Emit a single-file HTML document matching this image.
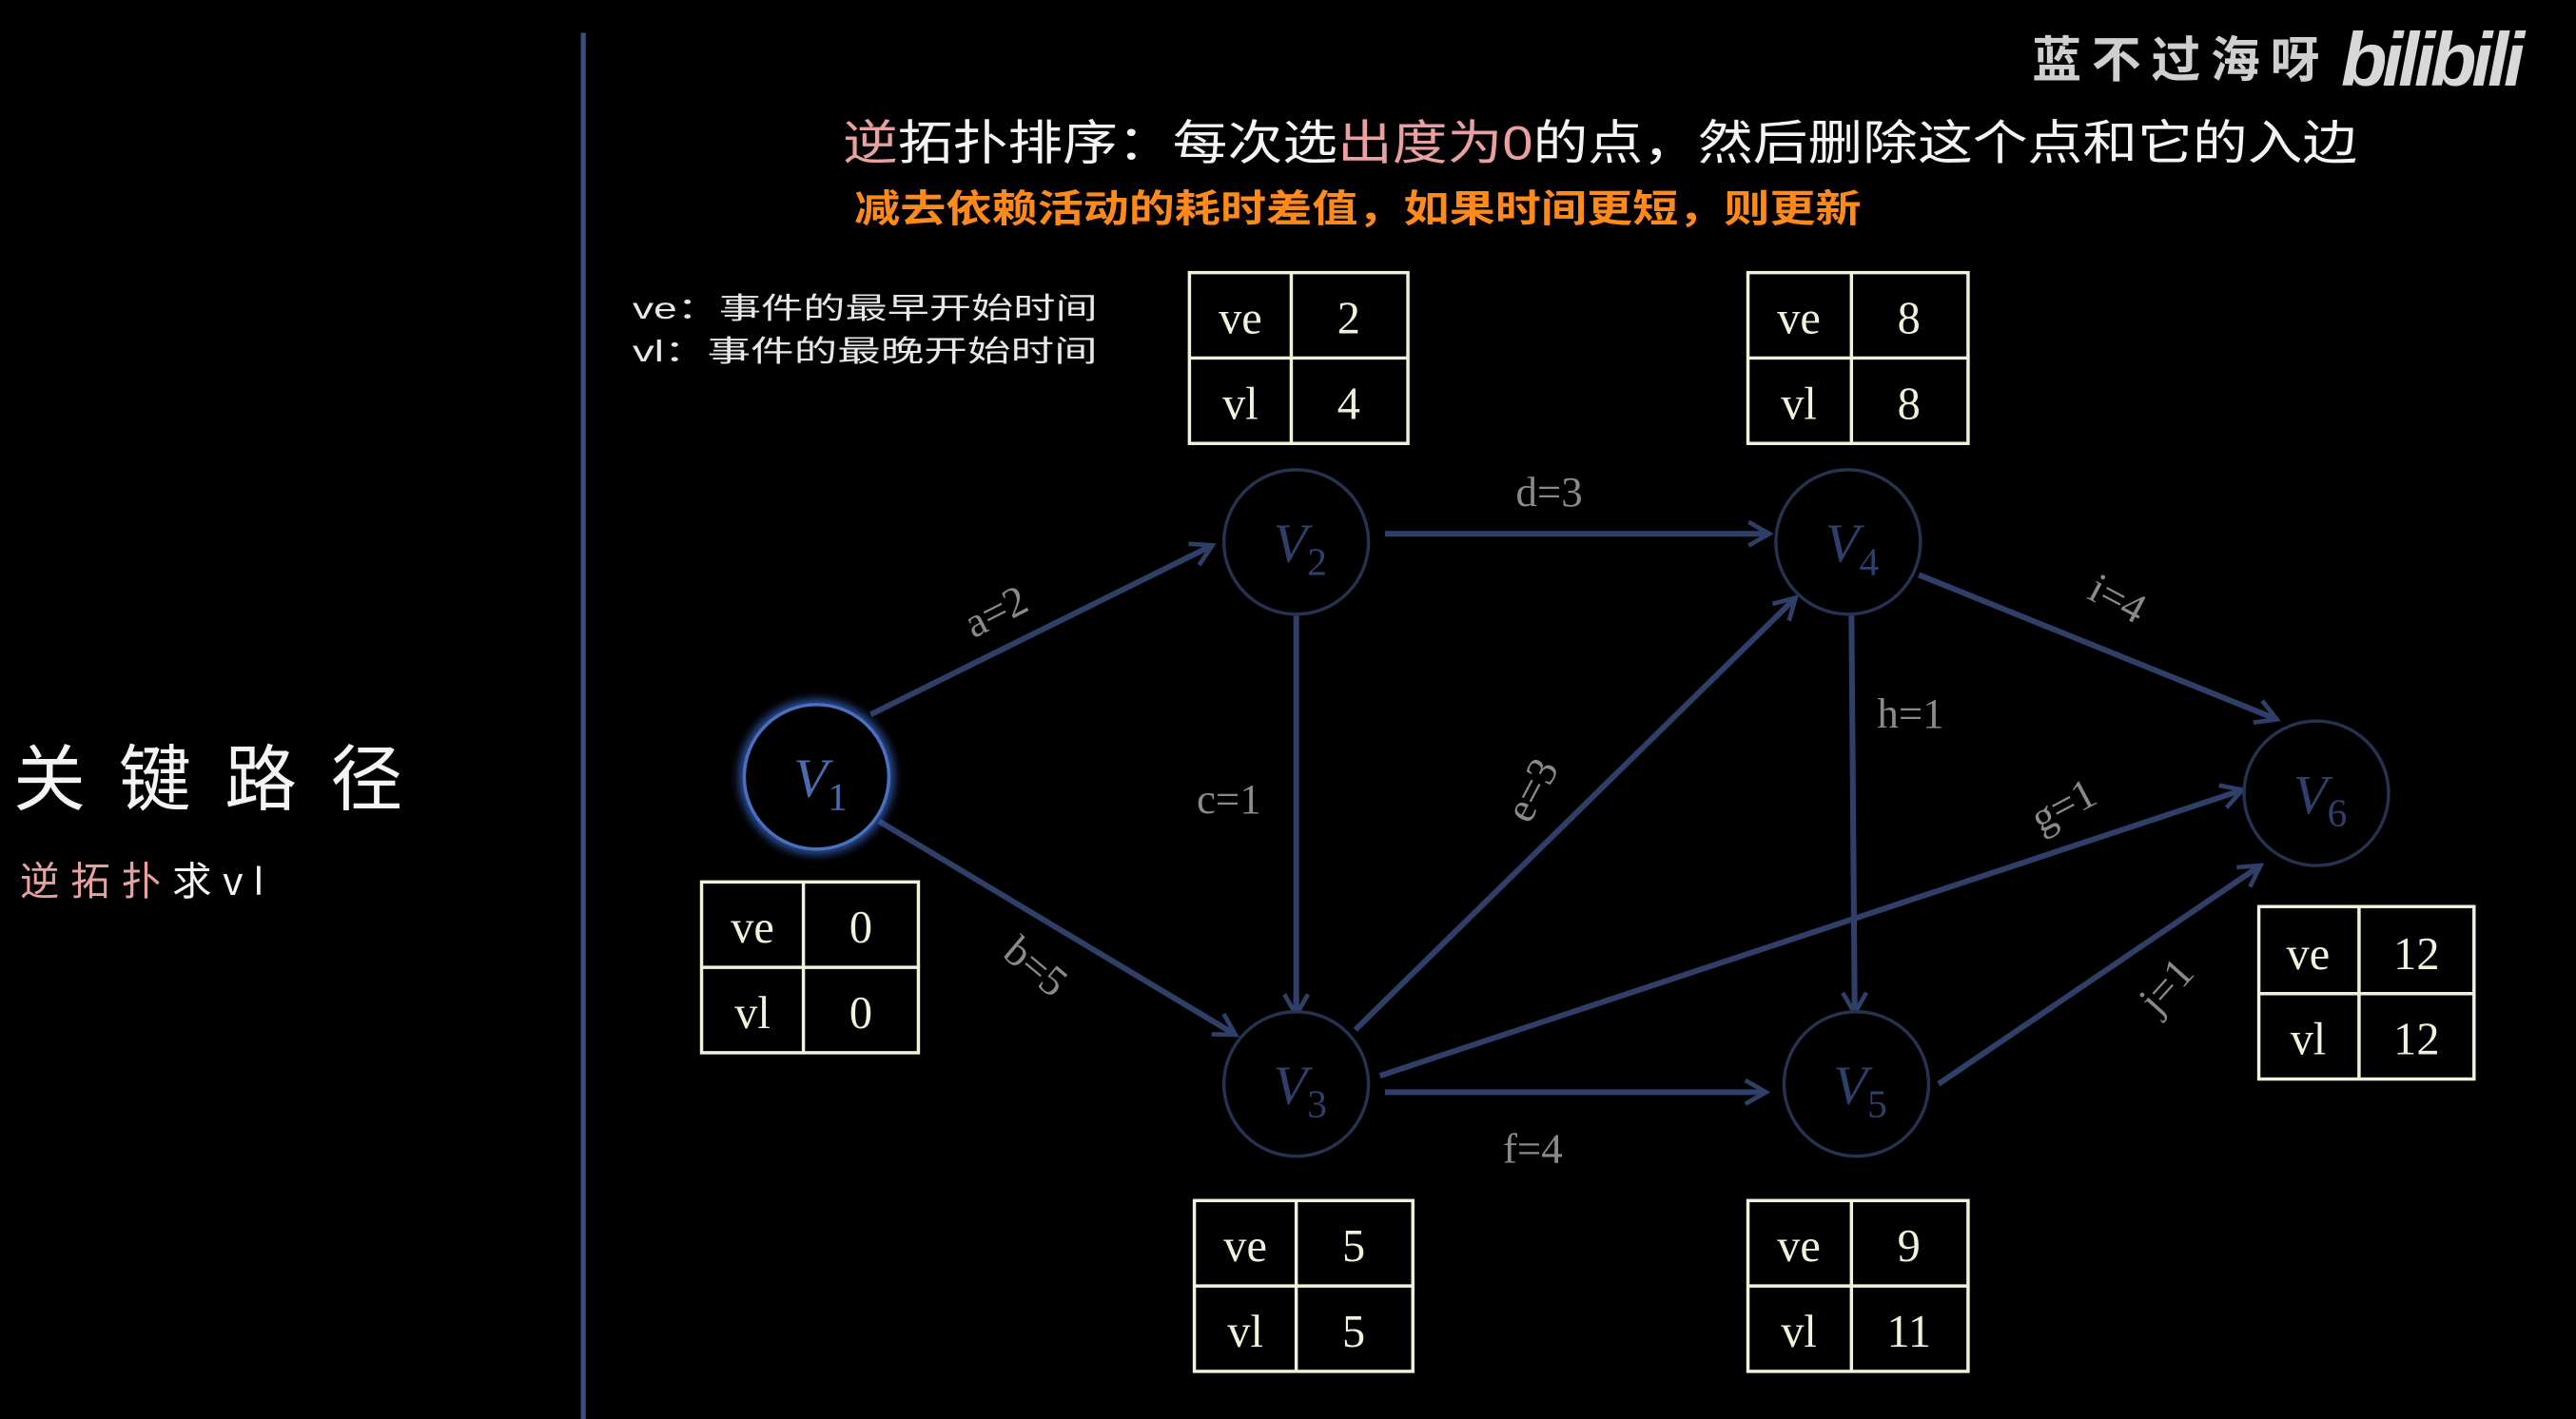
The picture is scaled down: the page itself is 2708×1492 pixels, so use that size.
<!DOCTYPE html>
<html><head><meta charset="utf-8"><style>
html,body{margin:0;padding:0;background:#000;width:2708px;height:1492px;overflow:hidden}
svg{display:block}
.cj{font-family:"Liberation Sans","Noto Sans CJK SC",sans-serif}
.lbl{fill:#8a8a8a;font-size:26px;font-family:"Liberation Serif",serif}
.vn{fill:#2e3f6a;font-size:34px;font-style:italic;font-family:"Liberation Serif",serif}
.vs{font-size:24px;font-style:normal}
.tt{fill:#f2f2dc;font-size:28px;font-family:"Liberation Serif",serif;text-anchor:middle}
</style></head><body>
<svg width="2708" height="1492" viewBox="0 0 1568 864" xmlns="http://www.w3.org/2000/svg">
<defs>
<marker id="ar" viewBox="0 0 20 20" refX="17" refY="10" markerWidth="18" markerHeight="18" orient="auto" markerUnits="userSpaceOnUse">
<path d="M3,2 L17,10 L3,18" fill="none" stroke="#2f3f68" stroke-width="3"/>
</marker>
<filter id="gl"><feGaussianBlur stdDeviation="3"/></filter>
</defs>
<rect width="1568" height="864" fill="#000"/>
<line x1="355" y1="20" x2="355" y2="864" stroke="#3c4d85" stroke-width="3"/>

<text x="1237" y="47" class="cj" font-size="30" font-weight="bold" fill="#cfcfcf" textLength="175">蓝不过海呀</text>
<text x="1425" y="52" font-family="Liberation Sans,sans-serif" font-size="46" font-weight="bold" font-style="italic" fill="#d8d8d8" letter-spacing="-3">bilibili</text>

<text x="513" y="97" class="cj" font-size="29" fill="#f4f4f4" textLength="922" lengthAdjust="spacingAndGlyphs"><tspan fill="#e9a0a0">逆</tspan>拓扑排序：每次选<tspan fill="#e9a0a0">出度为0</tspan>的点，然后删除这个点和它的入边</text>
<text x="520" y="135" class="cj" font-size="23" font-weight="bold" fill="#ff8a1c" textLength="613" lengthAdjust="spacingAndGlyphs">减去依赖活动的耗时差值，如果时间更短，则更新</text>

<text x="385" y="194" class="cj" font-size="18" fill="#e8e8e8" textLength="283" lengthAdjust="spacingAndGlyphs">ve：事件的最早开始时间</text>
<text x="385" y="220" class="cj" font-size="18" fill="#e8e8e8" textLength="283" lengthAdjust="spacingAndGlyphs">vl：事件的最晚开始时间</text>

<text x="8" y="490" class="cj" font-size="44" fill="#f4f4f4" textLength="237">关键路径</text>
<text x="12" y="545" class="cj" font-size="24" fill="#f4f4f4" textLength="148"><tspan fill="#e9a0a0">逆拓扑</tspan>求vl</text>

<g stroke="#2f3f68" stroke-width="3.5" fill="none" marker-end="url(#ar)">
<line x1="530" y1="435" x2="738" y2="332"/>
<line x1="535" y1="500" x2="752" y2="630"/>
<line x1="789" y1="375" x2="789" y2="618"/>
<line x1="843" y1="325" x2="1077" y2="325"/>
<line x1="825" y1="627" x2="1093" y2="364"/>
<line x1="843" y1="665" x2="1075" y2="665"/>
<line x1="840" y1="655" x2="1365" y2="481"/>
<line x1="1127" y1="373" x2="1129" y2="617"/>
<line x1="1168" y1="350" x2="1386" y2="438"/>
<line x1="1180" y1="660" x2="1376" y2="527"/>
</g>

<text class="lbl" transform="translate(610,380) rotate(-27)" text-anchor="middle">a=2</text>
<text class="lbl" transform="translate(625,595) rotate(40)" text-anchor="middle">b=5</text>
<text class="lbl" x="748" y="495" text-anchor="middle">c=1</text>
<text class="lbl" x="943" y="308" text-anchor="middle">d=3</text>
<text class="lbl" transform="translate(940,485) rotate(-62)" text-anchor="middle">e=3</text>
<text class="lbl" x="933" y="708" text-anchor="middle">f=4</text>
<text class="lbl" transform="translate(1260,498) rotate(-28)" text-anchor="middle">g=1</text>
<text class="lbl" x="1163" y="443" text-anchor="middle">h=1</text>
<text class="lbl" transform="translate(1285,372) rotate(28)" text-anchor="middle">i=4</text>
<text class="lbl" transform="translate(1325,606) rotate(-48)" text-anchor="middle">j=1</text>

<circle cx="497" cy="473" r="44" fill="none" stroke="#3a66c8" stroke-width="6" filter="url(#gl)" opacity="0.9"/>
<circle cx="497" cy="473" r="44" fill="#000" stroke="#4a70c0" stroke-width="2"/>
<g fill="#000" stroke="#26324f" stroke-width="2">
<circle cx="789" cy="330" r="44"/>
<circle cx="789" cy="660" r="44"/>
<circle cx="1125" cy="330" r="44"/>
<circle cx="1130" cy="660" r="44"/>
<circle cx="1410" cy="483" r="44"/>
</g>
<text x="483" y="485" class="vn" style="fill:#4a6cb0">V<tspan class="vs" dy="8">1</tspan></text>
<text x="775" y="342" class="vn">V<tspan class="vs" dy="8">2</tspan></text>
<text x="775" y="672" class="vn">V<tspan class="vs" dy="8">3</tspan></text>
<text x="1111" y="342" class="vn">V<tspan class="vs" dy="8">4</tspan></text>
<text x="1116" y="672" class="vn">V<tspan class="vs" dy="8">5</tspan></text>
<text x="1396" y="495" class="vn">V<tspan class="vs" dy="8">6</tspan></text>

<g stroke="#f2f2dc" stroke-width="2" fill="none">
<rect x="427" y="537" width="132" height="104"/><line x1="489" y1="537" x2="489" y2="641"/><line x1="427" y1="589" x2="559" y2="589"/>
<rect x="724" y="166" width="133" height="104"/><line x1="786" y1="166" x2="786" y2="270"/><line x1="724" y1="218" x2="857" y2="218"/>
<rect x="1064" y="166" width="134" height="104"/><line x1="1127" y1="166" x2="1127" y2="270"/><line x1="1064" y1="218" x2="1198" y2="218"/>
<rect x="727" y="731" width="133" height="104"/><line x1="789" y1="731" x2="789" y2="835"/><line x1="727" y1="783" x2="860" y2="783"/>
<rect x="1064" y="731" width="134" height="104"/><line x1="1127" y1="731" x2="1127" y2="835"/><line x1="1064" y1="783" x2="1198" y2="783"/>
<rect x="1375" y="552" width="131" height="105"/><line x1="1436" y1="552" x2="1436" y2="657"/><line x1="1375" y1="605" x2="1506" y2="605"/>
</g>
<g class="tt">
<text x="458" y="574">ve</text><text x="524" y="574">0</text><text x="458" y="626">vl</text><text x="524" y="626">0</text>
<text x="755" y="203">ve</text><text x="821" y="203">2</text><text x="755" y="255">vl</text><text x="821" y="255">4</text>
<text x="1095" y="203">ve</text><text x="1162" y="203">8</text><text x="1095" y="255">vl</text><text x="1162" y="255">8</text>
<text x="758" y="768">ve</text><text x="824" y="768">5</text><text x="758" y="820">vl</text><text x="824" y="820">5</text>
<text x="1095" y="768">ve</text><text x="1162" y="768">9</text><text x="1095" y="820">vl</text><text x="1162" y="820">11</text>
<text x="1405" y="590">ve</text><text x="1471" y="590">12</text><text x="1405" y="642">vl</text><text x="1471" y="642">12</text>
</g>
</svg>
</body></html>
